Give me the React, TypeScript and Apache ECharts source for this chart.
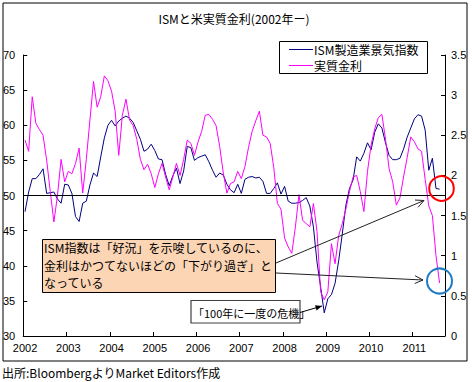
import React, { useEffect, useRef } from "react";
import * as echarts from "echarts";

const START_YEAR = 2002;
const MONTH_COUNT = 117; // axis runs Jan 2002 .. Sep 2011

const ISM = [
  47.7, 50.5, 52.4, 52.4, 53.0, 53.8, 50.3, 50.4, 50.5, 49.5, 48.9, 51.6,
  51.5, 50.3, 47.0, 46.3, 48.9, 49.2, 51.5, 53.2, 52.7, 55.5, 58.2, 60.0,
  60.7, 59.9, 60.6, 61.0, 61.3, 61.0, 60.4, 59.2, 58.0, 56.3, 56.6, 57.3,
  56.4, 55.2, 55.1, 53.0, 51.4, 52.8, 53.9, 51.7, 53.5, 57.0, 56.8, 55.0,
  55.4, 55.6, 55.8, 54.8, 53.6, 52.6, 53.2, 52.9, 51.6, 50.8, 50.4, 51.6,
  50.3, 52.3, 52.6, 52.7, 52.5, 52.6, 52.0, 50.3, 50.3, 51.0, 51.8, 50.2,
  51.3, 49.2, 48.9, 48.9, 49.0, 49.3, 49.7, 48.5, 45.5, 40.5, 37.0, 33.3,
  35.3, 35.9, 37.5, 40.7, 44.5, 48.6, 51.0, 52.2, 55.5, 54.9, 56.0, 57.5,
  56.5, 59.0, 60.2, 59.6, 57.5, 55.7, 55.1, 55.1, 55.3, 56.6, 58.3, 59.6,
  60.9, 61.5, 61.3, 59.3, 53.6, 55.3, 51.0, 50.9,
];

const REAL_RATE = [
  2.44, 2.30, 2.98, 2.65, 2.57, 2.50, 2.19, 1.80, 1.42, 1.75, 2.20, 1.92,
  2.05, 2.02, 2.15, 2.34, 1.78, 2.20, 2.69, 3.17, 2.85, 2.98, 3.24, 3.18,
  3.05, 2.80, 2.25, 2.75, 2.95, 2.69, 2.62, 2.45, 2.20, 2.07, 2.14, 2.02,
  1.85, 2.02, 2.15, 1.98, 1.82, 1.98, 2.15, 2.00, 2.20, 2.44, 2.40, 2.25,
  2.42, 2.55, 2.75, 2.76, 2.70, 2.62, 2.36, 2.03, 1.78, 1.90, 1.92, 2.05,
  1.96, 2.11, 2.35, 2.55, 2.68, 2.80, 2.50, 2.48, 2.40, 2.10, 1.65, 1.58,
  1.22, 1.11, 1.03, 1.36, 1.76, 1.44, 1.40, 1.36, 1.65, 1.30, 0.55, 0.45,
  0.55, 1.15, 0.90, 1.25, 1.40, 1.58, 1.80, 1.98, 2.00, 1.80, 1.55, 2.05,
  2.38, 2.58, 2.72, 2.76, 2.45, 2.08, 1.92, 1.63, 1.72, 1.98, 2.22, 2.48,
  2.42, 2.33, 2.30, 1.95, 1.62, 1.50, 1.00, 0.66,
];

const LEFT_AXIS = { min: 30, max: 70, interval: 5 };
const RIGHT_AXIS = { min: 0, max: 3.5, interval: 0.5 };
const THRESHOLD = [50];

const TITLE = "ISMと米実質金利(2002年ー)";
const SERIES_NAMES = ["ISM製造業景気指数", "実質金利"];
const NOTE_LINES = [
  "ISM指数は「好況」を示唆しているのに、",
  "金利はかつてないほどの「下がり過ぎ」と",
  "なっている",
];
const CRISIS_NOTE = "「100年に一度の危機」";
const SOURCE = "出所:BloombergよりMarket Editors作成";

const CATEGORIES: string[] = [];
for (let i = 0; i < MONTH_COUNT; i++) {
  const y = START_YEAR + Math.floor(i / 12);
  const m = (i % 12) + 1;
  CATEGORIES.push(`${y}/${m < 10 ? "0" + m : m}`);
}

const JP_FONT = "'Noto Sans CJK JP', 'Liberation Sans', sans-serif";
const NUM_FONT = "'Liberation Sans', Arial, sans-serif";

function arrowHead(x1: number, y1: number, x2: number, y2: number, len: number, half: number) {
  const a = Math.atan2(y2 - y1, x2 - x1);
  return [
    [x2 - len * Math.cos(a - half), y2 - len * Math.sin(a - half)],
    [x2, y2],
    [x2 - len * Math.cos(a + half), y2 - len * Math.sin(a + half)],
  ];
}

function arrow(x1: number, y1: number, x2: number, y2: number, filled: boolean, color: string) {
  const head = arrowHead(x1, y1, x2, y2, filled ? 7 : 9, filled ? 0.4 : 0.45);
  return [
    {
      type: "line",
      shape: { x1, y1, x2, y2 },
      style: { stroke: color, lineWidth: 1 },
      z: 20,
    },
    filled
      ? { type: "polygon", shape: { points: head }, style: { fill: color }, z: 20 }
      : {
          type: "polyline",
          shape: { points: head },
          style: { stroke: color, lineWidth: 1, fill: "none" },
          z: 20,
        },
  ];
}

export default function App() {
  const ref = useRef<HTMLDivElement>(null);

  useEffect(() => {
    if (!ref.current) return;
    const chart = echarts.init(ref.current, undefined, { renderer: "svg" });

    const axisCommon = {
      axisLine: { show: true, lineStyle: { color: "#000", width: 1 } },
      axisTick: { show: true, inside: true, length: 4, lineStyle: { color: "#000" } },
      splitLine: { show: false },
    };

    chart.setOption({
      animation: false,
      backgroundColor: "#fff",
      grid: { left: 23, right: 27, top: 55, bottom: 46, containLabel: false },
      xAxis: {
        type: "category",
        data: CATEGORIES,
        boundaryGap: true,
        ...axisCommon,
        axisTick: {
          show: true,
          inside: true,
          length: 4,
          interval: (i: number) => i % 12 === 0,
          lineStyle: { color: "#000" },
        },
        axisLabel: {
          interval: (i: number) => i % 12 === 0,
          formatter: (v: string) => v.slice(0, 4),
          color: "#000",
          fontSize: 11,
          fontFamily: NUM_FONT,
          margin: 6,
        },
      },
      yAxis: [
        {
          type: "value",
          position: "left",
          min: LEFT_AXIS.min,
          max: LEFT_AXIS.max,
          interval: LEFT_AXIS.interval,
          ...axisCommon,
          axisLabel: { color: "#000", fontSize: 11, fontFamily: NUM_FONT, margin: 8 },
        },
        {
          type: "value",
          position: "right",
          min: RIGHT_AXIS.min,
          max: RIGHT_AXIS.max,
          interval: RIGHT_AXIS.interval,
          ...axisCommon,
          axisLabel: { color: "#000", fontSize: 11, fontFamily: NUM_FONT, margin: 6 },
        },
      ],
      series: [
        {
          name: SERIES_NAMES[0],
          type: "line",
          yAxisIndex: 0,
          data: ISM,
          showSymbol: false,
          lineStyle: { color: "#000080", width: 1 },
          itemStyle: { color: "#000080" },
          z: 3,
          markLine: {
            silent: true,
            symbol: "none",
            label: { show: false },
            lineStyle: { color: "#000", width: 1, type: "solid" },
            data: THRESHOLD.map((v) => ({ yAxis: v })),
          },
        },
        {
          name: SERIES_NAMES[1],
          type: "line",
          yAxisIndex: 1,
          data: REAL_RATE,
          showSymbol: false,
          lineStyle: { color: "#FF00FF", width: 1 },
          itemStyle: { color: "#FF00FF" },
          z: 4,
        },
      ],
      graphic: [
        {
          type: "rect",
          shape: { x: 3, y: 3, width: 464, height: 358 },
          style: { fill: "none", stroke: "#000", lineWidth: 1 },
          z: 0,
          silent: true,
        },
        {
          type: "text",
          x: 234,
          y: 18,
          style: {
            text: TITLE,
            fill: "#000",
            font: `12px ${JP_FONT}`,
            textAlign: "center",
            textVerticalAlign: "middle",
          },
        },
        // legend
        {
          type: "rect",
          shape: { x: 279.5, y: 41.5, width: 148, height: 32 },
          style: { fill: "#fff", stroke: "#000", lineWidth: 1 },
          z: 10,
        },
        {
          type: "line",
          shape: { x1: 289, y1: 49.5, x2: 313, y2: 49.5 },
          style: { stroke: "#000080", lineWidth: 1 },
          z: 11,
        },
        {
          type: "text",
          x: 314,
          y: 49.5,
          style: {
            text: SERIES_NAMES[0],
            fill: "#000",
            font: `12px ${JP_FONT}`,
            textVerticalAlign: "middle",
          },
          z: 11,
        },
        {
          type: "line",
          shape: { x1: 289, y1: 65.5, x2: 313, y2: 65.5 },
          style: { stroke: "#FF00FF", lineWidth: 1 },
          z: 11,
        },
        {
          type: "text",
          x: 314,
          y: 65.5,
          style: {
            text: SERIES_NAMES[1],
            fill: "#000",
            font: `12px ${JP_FONT}`,
            textVerticalAlign: "middle",
          },
          z: 11,
        },
        // main note box
        {
          type: "rect",
          shape: { x: 42.5, y: 239.5, width: 233, height: 53 },
          style: { fill: "#FCD5B5", stroke: "#000", lineWidth: 1 },
          z: 15,
        },
        {
          type: "text",
          x: 44,
          y: 238.5,
          style: {
            text: NOTE_LINES.join("\n"),
            fill: "#000",
            font: `12px ${JP_FONT}`,
            lineHeight: 17.7,
            textVerticalAlign: "top",
          },
          z: 16,
        },
        ...arrow(276, 263, 424, 200.5, false, "#222"),
        ...arrow(276, 273, 423, 280, false, "#222"),
        // crisis box
        {
          type: "rect",
          shape: { x: 191, y: 300.5, width: 109, height: 22.5 },
          style: { fill: "#fff", stroke: "#404040", lineWidth: 1.2 },
          z: 15,
        },
        {
          type: "text",
          x: 193,
          y: 312.5,
          style: {
            text: CRISIS_NOTE,
            fill: "#000",
            font: `11px ${JP_FONT}`,
            textVerticalAlign: "middle",
          },
          z: 16,
        },
        ...arrow(300, 312.5, 322, 306, true, "#000"),
        // highlight circles
        {
          type: "circle",
          shape: { cx: 441.5, cy: 188.5, r: 12.3 },
          style: { fill: "none", stroke: "#FF0000", lineWidth: 2 },
          z: 18,
        },
        {
          type: "circle",
          shape: { cx: 439.5, cy: 281, r: 12.5 },
          style: { fill: "none", stroke: "#1F7BC4", lineWidth: 2 },
          z: 18,
        },
        {
          type: "text",
          x: 2,
          y: 372,
          style: {
            text: SOURCE,
            fill: "#000",
            font: `12px ${JP_FONT}`,
            textVerticalAlign: "middle",
          },
        },
      ],
    });

    return () => chart.dispose();
  }, []);

  return (
    <div
      ref={ref}
      style={{ position: "absolute", left: 0, top: 0, width: 472, height: 382 }}
    />
  );
}
